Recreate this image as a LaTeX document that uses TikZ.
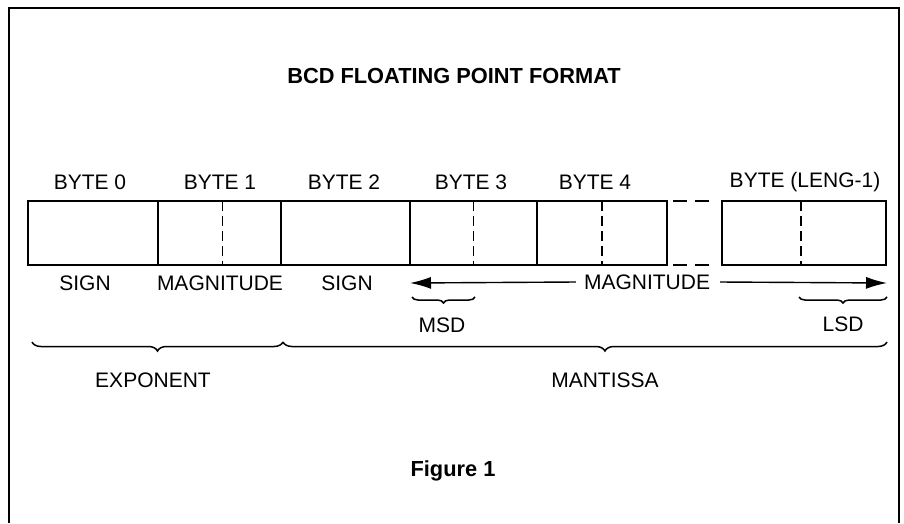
\documentclass[tikz,border=0pt]{standalone}
\usepackage{fontspec}
\setmainfont{Liberation Sans}
\usetikzlibrary{arrows.meta,decorations.pathreplacing}
\begin{document}
\begin{tikzpicture}[x=1pt,y=-1pt,
  lbl/.style={inner sep=0pt,font=\fontsize{21}{25}\selectfont},
  ttl/.style={inner sep=0pt,font=\fontsize{21.8}{26}\selectfont\bfseries},
  cell/.style={draw,line width=1.8pt,anchor=north west,minimum height=64pt,inner sep=0pt,outer sep=0pt},
  divide/.style={line width=1.8pt,dash pattern=on 10pt off 5pt},
  gapdash/.style={line width=1.8pt,dash pattern=on 14pt off 8pt},
  frame/.style={line width=2pt},
  arr/.style={line width=1.4pt,-{Latex[length=21pt,width=12pt]}},
  brc/.style={line width=1.5pt,decorate,decoration={brace,mirror,amplitude=#1}},
  brc/.default=7pt]
\useasboundingbox (0,0) rectangle (904,523);
% outer frame
\coordinate (fbl) at (9,523);
\coordinate (ftl) at (9,8);
\coordinate (ftr) at (899,8);
\coordinate (fbr) at (899,523);
\draw[frame] (fbl) -- (ftl) -- (ftr) -- (fbr);
% title
\node[ttl] (title) at (454,76) {BCD FLOATING POINT FORMAT};
% byte cells
\node[cell,minimum width=130pt] (b0) at (28,201) {};
\node[cell,minimum width=123pt] (b1) at (158,201) {};
\node[cell,minimum width=129pt] (b2) at (281,201) {};
\node[cell,minimum width=127pt] (b3) at (410,201) {};
\node[cell,minimum width=130pt] (b4) at (537,201) {};
\node[cell,minimum width=164pt] (bl) at (722,201) {};
% dashed half-byte dividers
\draw[divide] ([xshift=3pt]b1.north) -- ([xshift=3pt]b1.south);
\draw[divide] (b3.north) -- (b3.south);
\draw[divide] (b4.north) -- (b4.south);
\draw[divide] ([xshift=-3pt]bl.north) -- ([xshift=-3pt]bl.south);
% gap dashes
\draw[gapdash] ([xshift=6pt]b4.north east) -- ([xshift=-5pt]bl.north west);
\draw[gapdash] ([xshift=6pt]b4.south east) -- ([xshift=-5pt]bl.south west);
% byte labels
\node[lbl] (l0) at (90,182) {BYTE 0};
\node[lbl] (l1) at (220,182) {BYTE 1};
\node[lbl] (l2) at (344,182) {BYTE 2};
\node[lbl] (l3) at (471,182) {BYTE 3};
\node[lbl] (l4) at (595,182) {BYTE 4};
\node[lbl] (ll) at (805,182) {BYTE (LENG-1)};
% lower labels
\node[lbl] (s0) at (85,283) {SIGN};
\node[lbl] (m1) at (220,283) {MAGNITUDE};
\node[lbl] (s2) at (347,283) {SIGN};
\node[lbl] (mm) at (647,282) {MAGNITUDE};
\coordinate (al) at (410,283);
\coordinate (ar) at (887,283);
\draw[arr] ([xshift=-8pt]mm.west) -- (al);
\draw[arr] ([xshift=10pt]mm.east) -- (ar);
% MSD / LSD braces
\coordinate (msda) at (412,297);
\coordinate (msdb) at (475,297);
\draw[brc=6pt] (msda) -- (msdb);
\node[lbl] (msd) at (442,325) {MSD};
\coordinate (lsda) at (799,297);
\coordinate (lsdb) at (887,297);
\draw[brc=6pt] (lsda) -- (lsdb);
\node[lbl] (lsd) at (843,324) {LSD};
% exponent / mantissa braces
\coordinate (ea) at (32,342);
\coordinate (eb) at (283,342);
\coordinate (mb) at (887,342);
\draw[brc=9pt] (ea) -- (eb);
\draw[brc=9pt,decoration={aspect=0.533}] (eb) -- (mb);
\node[lbl] (exp) at (153,380) {EXPONENT};
\node[lbl] (man) at (605,380) {MANTISSA};
% caption
\node[ttl] (fig) at (453,471) {Figure 1};
\end{tikzpicture}
\end{document}
